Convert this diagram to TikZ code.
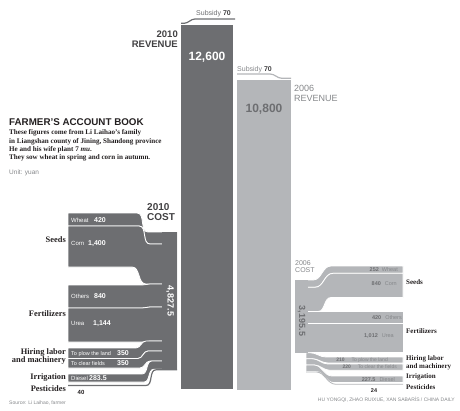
\documentclass[tikz,border=0pt]{standalone}
\usepackage{fontspec}
\setmainfont{Liberation Serif}
\setsansfont{Liberation Sans}
\definecolor{BarDark}{HTML}{6D6E71}
\definecolor{BarLight}{HTML}{B4B6B9}
\definecolor{InkDark}{HTML}{414042}
\definecolor{InkGray}{HTML}{85878A}
\definecolor{InkBlack}{HTML}{231F20}
\newcommand\WordNum[3]{\makebox[#1][l]{#2}{\bfseries\fontsize{7}{7}\selectfont #3}}
\newcommand\NumWord[3][3pt]{{\bfseries #2}\hspace{#1}{\color{InkGray}#3}}
\tikzset{
  sk/.style = {out=0, in=180},
  ks/.style = {out=180, in=0},
  FlowDark/.style = {fill=BarDark, draw=white, line width=0.8pt},
  FlowLight/.style = {fill=BarLight, draw=white, line width=0.8pt},
  HeadStyle/.style = {inner sep=0pt, text=InkDark,
                      font=\sffamily\bfseries\fontsize{10}{10}\selectfont},
  CatLeft/.style = {inner sep=0pt, text=InkBlack,
                    font=\bfseries\fontsize{8.4}{8}\selectfont},
  CatRight/.style = {inner sep=0pt, anchor=west, text=InkBlack,
                     font=\bfseries\fontsize{7}{8}\selectfont},
  InBarDark/.style = {inner sep=0pt, anchor=west, text=white,
                      font=\sffamily\fontsize{6}{6}\selectfont},
  InBarLight/.style = {inner sep=0pt, anchor=east, text=BarDark,
                       font=\sffamily\fontsize{5.5}{5.5}\selectfont},
  NoteStyle/.style = {inner sep=0pt, text=InkGray,
                      font=\sffamily\fontsize{5}{5}\selectfont}
}

\begin{document}
\begin{tikzpicture}[x=1pt, y=-1pt]
  \useasboundingbox (0,0) rectangle (460,410);

  \fill[BarDark] (181,25) rectangle (233,389);
  \draw[BarDark, line width=1.2pt] (181,23.3) -- (184,23.3) to[sk] (195,19) -- (235,19);
  \fill[BarLight] (237,80) rectangle (291,390);
  \draw[BarLight, line width=1.2pt] (237,74) -- (270,74) to[sk] (282,78.3) -- (291,78.3);

  \node[NoteStyle, anchor=base west, text=BarDark, font=\sffamily\fontsize{7}{7}\selectfont]
    (sub10) at (196,15) {Subsidy \textbf{\color{InkDark}70}};
  \node[NoteStyle, anchor=base west, text=InkGray, font=\sffamily\fontsize{7}{7}\selectfont]
    (sub06) at (237,71) {Subsidy \textbf{\color{InkDark}70}};
  \node[HeadStyle, anchor=north east, align=right, font=\sffamily\bfseries\fontsize{9.5}{9.5}\selectfont]
    (rev10) at (178,31) {2010\\REVENUE};
  \node[HeadStyle, text=white, font=\sffamily\bfseries\fontsize{12}{12}\selectfont]
    (total10) at (207,57) {12,600};
  \node[HeadStyle, anchor=north west, align=left, text=InkGray, font=\sffamily\fontsize{9}{10}\selectfont]
    (rev06) at (294,85) {2006\\REVENUE};
  \node[HeadStyle, text=BarDark, font=\sffamily\bfseries\fontsize{12}{12}\selectfont]
    (total06) at (264,109) {10,800};

  \node[HeadStyle, anchor=base west, text=InkBlack, font=\sffamily\bfseries\fontsize{9.8}{9.8}\selectfont]
    (title) at (9,125) {FARMER'S ACCOUNT BOOK};
  \node[inner sep=0pt, anchor=north west, align=left, text=InkBlack,
        font=\bfseries\fontsize{7.1}{8.3}\selectfont] (intro) at (9,129.5)
    {These figures come from Li Laihao's family\\
     in Liangshan county of Jining, Shandong province\\
     He and his wife plant 7 \textit{mu}.\\
     They sow wheat in spring and corn in autumn.};
  \node[NoteStyle, anchor=base west, font=\sffamily\fontsize{6.5}{6.5}\selectfont]
    (unit) at (9,174) {Unit: yuan};

  \path[FlowDark] (68,213) -- (137,213) to[sk] (148,232) -- (177,232) -- (177,244)
    -- (150,244) to[ks] (139,226) -- (68,226) -- cycle;
  \path[FlowDark] (68,226) -- (139,226) to[sk] (150,244) -- (177,244) -- (177,284)
    -- (146,284) to[ks] (132,267) -- (68,267) -- cycle;
  \path[FlowDark] (68,285) -- (142,285) to[sk] (150,284) -- (177,284) -- (177,307)
    -- (150,307) to[ks] (142,308) -- (68,308) -- cycle;
  \path[FlowDark] (68,308) -- (142,308) to[sk] (150,307) -- (177,307) -- (177,341)
    -- (150,341) to[ks] (142,342) -- (68,342) -- cycle;
  \path[FlowDark] (68,348) -- (136,348) to[sk] (146,341) -- (177,341) -- (177,351)
    -- (148,351) to[ks] (138,358.5) -- (68,358.5) -- cycle;
  \path[FlowDark] (68,358.5) -- (138,358.5) to[sk] (148,351) -- (177,351) -- (177,361)
    -- (150,361) to[ks] (140,368) -- (68,368) -- cycle;
  \path[FlowDark] (68,374) -- (142,374) to[sk] (152,361) -- (177,361) -- (177,369.2)
    -- (154,369.2) to[ks] (144,382) -- (68,382) -- cycle;
  \draw[BarDark, line width=1.2pt] (68,385.5) -- (146,385.5) to[sk] (156,369.8) -- (177,369.8);
  \fill[BarDark] (162,232) rectangle (177,370.4);

  \node[HeadStyle, anchor=north west, align=left, font=\sffamily\bfseries\fontsize{10}{10}\selectfont]
    (cost10) at (147,203) {2010\\COST};
  \node[HeadStyle, rotate=-90, text=white, font=\sffamily\bfseries\fontsize{9}{9}\selectfont]
    (sum10) at (170,301) {4,827.5};

  \node[InBarDark] (wheat10) at (71,220) {\WordNum{23pt}{Wheat}{420}};
  \node[InBarDark] (corn10) at (71,244) {\WordNum{17pt}{Corn}{1,400}};
  \node[InBarDark] (others10) at (71,296) {\WordNum{23pt}{Others}{840}};
  \node[InBarDark] (urea10) at (71,324) {\WordNum{22pt}{Urea}{1,144}};
  \node[InBarDark, font=\sffamily\fontsize{5.5}{5.5}\selectfont]
    (plow10) at (71,353.3) {\WordNum{46pt}{To plow the land}{350}};
  \node[InBarDark, font=\sffamily\fontsize{5.5}{5.5}\selectfont]
    (clear10) at (71,363.5) {\WordNum{46pt}{To clear fields}{350}};
  \node[InBarDark] (diesel10) at (71,378.5) {\WordNum{18pt}{Diesel}{283.5}};
  \node[HeadStyle, text=InkBlack, font=\sffamily\bfseries\fontsize{6}{6}\selectfont]
    (pest10) at (81,392) {40};

  \node[CatLeft, anchor=east] (seeds10) at (66,240) {Seeds};
  \node[CatLeft, anchor=east] (fert10) at (66,314) {Fertilizers};
  \node[CatLeft, anchor=east, align=right] (hire10) at (66,356.5) {Hiring labor\\and machinery};
  \node[CatLeft, anchor=east] (irr10) at (66,378) {Irrigation};
  \node[CatLeft, anchor=east] (pesti10) at (66,388.5) {Pesticides};

  \path[FlowLight] (295,280) -- (313,280) to[sk] (331,266) -- (403,266) -- (403,273.3)
    -- (333,273.3) to[ks] (315,287.3) -- (295,287.3) -- cycle;
  \path[FlowLight] (295,287.3) -- (315,287.3) to[sk] (333,273.3) -- (403,273.3) -- (403,297.5)
    -- (331,297.5) to[ks] (318,311.5) -- (295,311.5) -- cycle;
  \path[FlowLight] (295,311.5) rectangle (403,323.6);
  \path[FlowLight] (295,323.6) rectangle (403,352.7);
  \path[FlowLight] (306,352.7) -- (310,352.7) to[sk] (326,357) -- (403,357) -- (403,363)
    -- (328,363) to[ks] (312,358.7) -- (306,358.7) -- cycle;
  \path[FlowLight] (306,358.7) -- (312,358.7) to[sk] (328,364) -- (403,364) -- (403,370.3)
    -- (330,370.3) to[ks] (314,365) -- (306,365) -- cycle;
  \path[FlowLight] (306,365) -- (314,365) to[sk] (332,376) -- (403,376) -- (403,382.6)
    -- (334,382.6) to[ks] (316,371.6) -- (306,371.6) -- cycle;
  \draw[BarLight, line width=0.8pt] (306,371.95) -- (316,371.95) to[sk] (336,384.3) -- (403,384.3);
  \fill[BarLight] (295,280) rectangle (308,352.7);

  \node[HeadStyle, anchor=north west, align=left, text=InkGray, font=\sffamily\fontsize{7}{7.5}\selectfont]
    (cost06) at (295,260) {2006\\COST};
  \node[HeadStyle, rotate=-90, text=BarDark, font=\sffamily\bfseries\fontsize{9}{9}\selectfont]
    (sum06) at (301.5,321) {3,195.5};

  \node[InBarLight] (wheat06) at (398,269.6) {\NumWord{252}{Wheat}};
  \node[InBarLight] (corn06) at (397,284) {\NumWord[4pt]{840}{Corn}};
  \node[InBarLight] (others06) at (402,317.5) {\NumWord[4pt]{420}{Others}};
  \node[InBarLight] (urea06) at (394,336) {\NumWord[4pt]{1,012}{Urea}};
  \node[InBarLight, font=\sffamily\fontsize{5}{5}\selectfont]
    (plow06) at (388,360) {\NumWord[7pt]{210}{To plow the land}};
  \node[InBarLight, font=\sffamily\fontsize{5}{5}\selectfont]
    (clear06) at (397,367.2) {\NumWord[7pt]{220}{To clear the fields}};
  \node[InBarLight] (diesel06) at (395,379.3) {\NumWord[4pt]{227.5}{Diesel}};
  \node[HeadStyle, text=InkBlack, font=\sffamily\bfseries\fontsize{5.5}{5.5}\selectfont]
    (pest06) at (374,390.5) {24};

  \node[CatRight] (seeds06) at (406,282) {Seeds};
  \node[CatRight] (fert06) at (406,331) {Fertilizers};
  \node[CatRight, align=left] (hire06) at (406,363) {Hiring labor\\and machinery};
  \node[CatRight] (irr06) at (406,377) {Irrigation};
  \node[CatRight] (pesti06) at (406,387) {Pesticides};

  \node[NoteStyle, anchor=base west] (source) at (9,404.5) {Source: Li Laihao, farmer};
  \node[NoteStyle, anchor=base east] (credit) at (455,401) {HU YONGQI, ZHAO RUIXUE, XAN SABARÍS / CHINA DAILY};
\end{tikzpicture}
\end{document}
